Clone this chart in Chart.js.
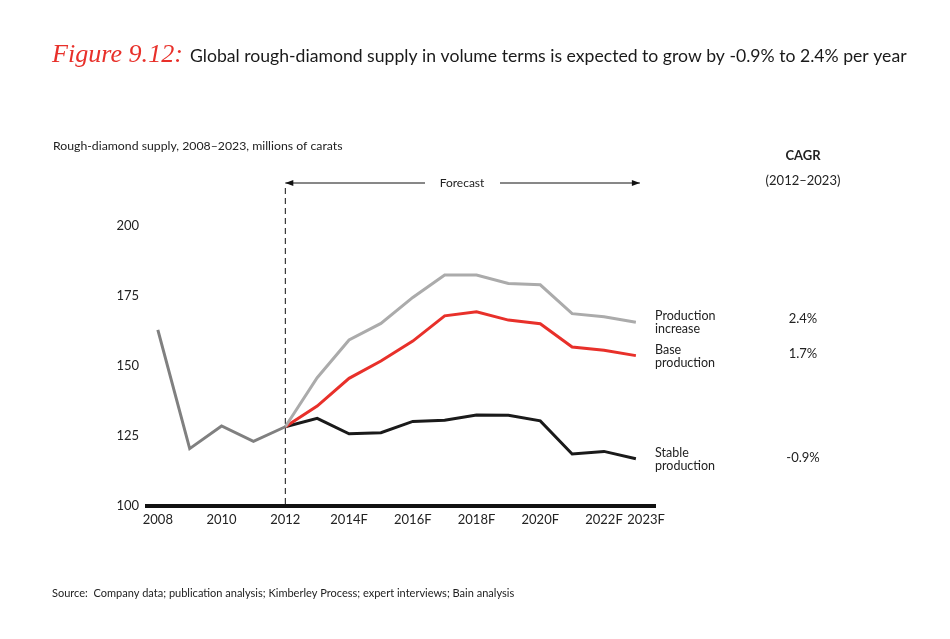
<!DOCTYPE html>
<html>
<head>
<meta charset="utf-8">
<script src="https://cdn.jsdelivr.net/npm/chart.js@4.4.1/dist/chart.umd.min.js"></script>
<style>
  html, body { margin: 0; padding: 0; background: #fff; }
  #wrap { width: 950px; height: 639px; }
</style>
</head>
<body>
<div id="wrap"><canvas id="supplyChart"></canvas></div>
<script>
// Rough-diamond supply, millions of carats
var years = [2008, 2009, 2010, 2011, 2012, 2013, 2014, 2015, 2016, 2017, 2018, 2019, 2020, 2021, 2022, 2023];
var historical = [162.9, 120.5, 128.6, 123.1, 128.3, null, null, null, null, null, null, null, null, null, null, null];
var productionIncrease = [null, null, null, null, 128.3, 145.8, 159.3, 165.2, 174.5, 182.5, 182.5, 179.5, 179.0, 168.7, 167.6, 165.6];
var baseProduction = [null, null, null, null, 128.3, 135.7, 145.6, 151.8, 158.9, 167.9, 169.4, 166.4, 165.1, 156.8, 155.6, 153.7];
var stableProduction = [null, null, null, null, 128.3, 131.3, 125.8, 126.2, 130.2, 130.6, 132.5, 132.4, 130.4, 118.6, 119.5, 116.9];

var xTickYears = [2008, 2010, 2012, 2014, 2016, 2018, 2020, 2022, 2023];
var yTicks = [100, 125, 150, 175, 200];
var forecastStart = 2012;

var seriesNames = [["Production", "increase"], ["Base", "production"], ["Stable", "production"]];
var cagrValues = ["2.4%", "1.7%", "-0.9%"];

var FONT = "Lato, 'Noto Sans', sans-serif";

// draw text squeezed/stretched to a target width
function fitText(ctx, text, x, y, width, size, style, family) {
	family = family || FONT;
	ctx.font = (style || "") + " " + size + "px " + family;
	var w = ctx.measureText(text).width;
	var s = size * width / w;
	ctx.font = (style || "") + " " + s + "px " + family;
	ctx.fillText(text, x, y);
}

function arrowHead(ctx, x, y, dir) {
	ctx.beginPath();
	ctx.moveTo(x, y);
	ctx.lineTo(x - dir * 8, y - 3);
	ctx.lineTo(x - dir * 8, y + 3);
	ctx.closePath();
	ctx.fill();
}

var decorations = {
	id: 'decorations',
	beforeDatasetsDraw: function(chart) {
		var ctx = chart.ctx;
		var x = chart.scales.x;
		var area = chart.chartArea;
		var fx = x.getPixelForValue(forecastStart);
		ctx.save();
		ctx.strokeStyle = '#111';
		ctx.lineWidth = 1;
		ctx.setLineDash([6, 4]);
		ctx.beginPath();
		ctx.moveTo(fx, 188);
		ctx.lineTo(fx, area.bottom);
		ctx.stroke();
		ctx.restore();
	},
	afterDraw: function(chart) {
		var ctx = chart.ctx;
		var x = chart.scales.x;
		ctx.save();

		// title
		ctx.textBaseline = 'alphabetic';
		ctx.textAlign = 'left';
		ctx.fillStyle = '#e8302a';
		fitText(ctx, "Figure 9.12:", 52, 62, 131, 24, "italic", "'Liberation Serif', serif");
		ctx.fillStyle = '#1a1a1a';
		fitText(ctx, "Global rough-diamond supply in volume terms is expected to grow by -0.9% to 2.4% per year", 190, 62, 717, 18, "");

		// subtitle
		ctx.fillStyle = '#222';
		fitText(ctx, "Rough-diamond supply, 2008\u20132023, millions of carats", 53, 150, 290, 12, "");

		// CAGR header
		ctx.textAlign = 'center';
		ctx.font = "bold 13px " + FONT;
		ctx.fillText("CAGR", 803, 160);
		ctx.font = "13px " + FONT;
		ctx.fillText("(2012\u20132023)", 803, 185);

		// forecast arrow
		var fx = x.getPixelForValue(forecastStart);
		var ex = x.getPixelForValue(2023) + 4;
		ctx.strokeStyle = '#111';
		ctx.fillStyle = '#111';
		ctx.lineWidth = 1;
		ctx.beginPath();
		ctx.moveTo(fx, 183);
		ctx.lineTo(425, 183);
		ctx.moveTo(500, 183);
		ctx.lineTo(ex, 183);
		ctx.stroke();
		arrowHead(ctx, fx, 183, -1);
		arrowHead(ctx, ex, 183, 1);
		ctx.fillStyle = '#222';
		ctx.font = "12px " + FONT;
		ctx.textBaseline = 'middle';
		ctx.fillText("Forecast", 462, 183);

		// series labels and CAGR values
		var labelTops = [316, 350, 453];
		var valueY = [319, 354, 458];
		for (var i = 0; i < seriesNames.length; i++) {
			ctx.textAlign = 'left';
			ctx.font = "12.5px " + FONT;
			ctx.fillText(seriesNames[i][0], 655, labelTops[i]);
			ctx.fillText(seriesNames[i][1], 655, labelTops[i] + 13);
			ctx.textAlign = 'center';
			ctx.font = "13px " + FONT;
			ctx.fillText(cagrValues[i], 803, valueY[i]);
		}

		// source
		ctx.textAlign = 'left';
		ctx.textBaseline = 'alphabetic';
		fitText(ctx, "Source:  Company data; publication analysis; Kimberley Process; expert interviews; Bain analysis", 52, 597, 463, 11, "");
		ctx.restore();
	}
};

var ctx = document.getElementById("supplyChart");
var supplyChart = new Chart(ctx, {
	type: 'line',
	data: {
		labels: years,
		datasets: [{
			label: "Historical",
			data: historical,
			borderColor: '#808080',
			borderWidth: 3
		}, {
			label: "Production increase",
			data: productionIncrease,
			borderColor: '#ababab',
			borderWidth: 3
		}, {
			label: "Base production",
			data: baseProduction,
			borderColor: '#e8302a',
			borderWidth: 3
		}, {
			label: "Stable production",
			data: stableProduction,
			borderColor: '#1a1a1a',
			borderWidth: 3
		}]
	},
	options: {
		responsive: true,
		maintainAspectRatio: false,
		animation: false,
		elements: {
			point: { radius: 0 },
			line: { tension: 0, borderJoinStyle: 'miter', spanGaps: false }
		},
		layout: {
			padding: { left: 100, right: 295, top: 226, bottom: 103 }
		},
		plugins: {
			legend: { display: false },
			tooltip: { enabled: false }
		},
		scales: {
			x: {
				type: 'linear',
				min: 2007.66,
				max: 2023.6,
				grid: { display: false, drawTicks: false },
				border: { display: true, color: '#111', width: 4 },
				afterBuildTicks: function(axis) {
					axis.ticks = xTickYears.map(function(v) {
						return { value: v === 2023 ? 2023.32 : v };
					});
				},
				afterFit: function(axis) { axis.height = 30; },
				ticks: {
					padding: 6,
					maxRotation: 0,
					autoSkip: false,
					color: '#222',
					font: { family: FONT, size: 13 },
					callback: function(v) {
						var yr = Math.round(v);
						return yr > forecastStart ? yr + 'F' : String(yr);
					}
				}
			},
			y: {
				min: 100,
				max: 200,
				grid: { display: false, drawTicks: false },
				border: { display: false },
				afterBuildTicks: function(axis) {
					axis.ticks = yTicks.map(function(v) { return { value: v }; });
				},
				afterFit: function(axis) { axis.width = 47; },
				ticks: {
					padding: 8,
					color: '#222',
					font: { family: FONT, size: 13 }
				}
			}
		}
	},
	plugins: [decorations]
});
</script>
</body>
</html>
